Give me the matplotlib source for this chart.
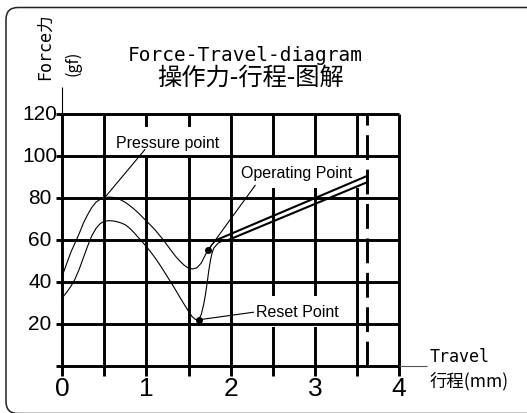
import matplotlib
matplotlib.use('Agg')
import matplotlib.pyplot as plt
from matplotlib.patches import FancyBboxPatch
from matplotlib.transforms import IdentityTransform

# axis ticks and grid
x_ticks = [0, 1, 2, 3, 4]
y_ticks = [20, 40, 60, 80, 100, 120]
grid_x = [0, 0.5, 1, 1.5, 2, 2.5, 3, 3.5, 4]
grid_y = [0, 20, 40, 60, 80, 100, 120]
end_travel = 3.62  # dashed line, total travel

# pressing curve (upper)
press_x = [0, 0.05, 0.1, 0.15, 0.2, 0.25, 0.3, 0.35, 0.4, 0.45, 0.5, 0.55,
           0.6, 0.65, 0.7, 0.75, 0.8, 0.85, 0.9, 0.95, 1.0, 1.05, 1.1,
           1.15, 1.2, 1.25, 1.3, 1.35, 1.4, 1.45, 1.5, 1.55, 1.6, 1.65,
           1.7, 1.735, 1.78, 1.83]
press_y = [43, 48.5, 54, 58.5, 63, 68, 72, 75.5, 78, 79.4, 80.1, 80.4,
           80.3, 79.8, 79, 77.9, 76.4, 74.8, 73, 71, 69, 67, 64.9,
           62.5, 60, 57.3, 54.6, 52, 49.8, 47.9, 46.6, 46.2, 46.8, 49,
           53, 55.4, 58, 60]
press_line_x = [1.83, end_travel]
press_line_y = [60, 90.5]

# release curve (lower)
rel_x = [0, 0.05, 0.1, 0.15, 0.2, 0.25, 0.3, 0.35, 0.4, 0.45, 0.5, 0.55,
         0.6, 0.65, 0.7, 0.75, 0.8, 0.85, 0.9, 0.95, 1.0, 1.05, 1.1,
         1.15, 1.2, 1.25, 1.3, 1.35, 1.4, 1.45, 1.5, 1.54, 1.58, 1.62,
         1.65, 1.68, 1.7, 1.72, 1.74, 1.76, 1.78, 1.8, 1.85, 1.9, 1.97]
rel_y = [32.5, 35, 37.8, 41.3, 46, 51.5, 57, 62, 65.5, 67.8, 68.9, 69.2,
         69.1, 68.7, 68.1, 67.2, 65.6, 63.6, 61.3, 59.1, 56.8, 54.3, 51.6,
         48.7, 45.6, 42.4, 39.2, 35.9, 32.5, 29.2, 26, 23.6, 22.2, 22,
         24.5, 29.5, 34, 39.5, 45.5, 50.5, 54, 56.2, 58.5, 59.4, 60]
rel_line_x = [1.97, end_travel]
rel_line_y = [60, 87.5]

# labelled points: (point x, point y, leader end x, leader end y)
pressure_pt = (0.5, 80, 0.98, 103)
operating_pt = (1.735, 55.4, 2.29, 86)
reset_pt = (1.62, 22, 2.27, 25.6)

W, H = 527, 414
fig = plt.figure(figsize=(W / 100, H / 100), dpi=100)
ax = fig.add_axes([0, 0, 1, 1])
ax.set_xlim(-62.3 / 84.2, (W - 62.3) / 84.2)
ax.set_ylim((367 - H) / 2.1, 367 / 2.1)
ax.axis('off')

# rounded frame around everything
frame = FancyBboxPatch((6, -0.5), 620, 406, boxstyle='round,pad=0,rounding_size=12',
                       transform=IdentityTransform(), fill=False,
                       edgecolor='#222222', linewidth=1.1)
fig.patches.append(frame)

lw_grid = 2.1
ax.vlines(grid_x, -4.6, 120, colors='black', linewidth=lw_grid, zorder=1)
ax.vlines([0], 120, 133, colors='black', linewidth=0.8, zorder=1)
ax.vlines([end_travel], 0, 120, colors='black', linewidth=lw_grid,
          linestyles=(0, (8.5, 3.3)), zorder=1)

label_font = dict(family='Liberation Sans', fontsize=11.5, zorder=2,
                  ha='center', va='center',
                  bbox=dict(boxstyle='square,pad=0.5', facecolor='white',
                            edgecolor='none'))
ax.text(1.249, 106.4, 'Pressure point', **label_font)
ax.text(2.78, 92.2, 'Operating Point', **label_font)
ax.text(2.79, 26, 'Reset Point', **label_font)

ax.hlines(grid_y, -0.07, 4.0, colors='black', linewidth=lw_grid, zorder=3)
ax.hlines([0], 4.0, 4.33, colors='#555555', linewidth=0.8, zorder=3)

# curves
ax.plot(press_x, press_y, color='black', linewidth=0.8, zorder=4)
ax.plot(rel_x, rel_y, color='black', linewidth=0.8, zorder=4)
ax.plot(press_line_x, press_line_y, color='black', linewidth=1.5,
        solid_capstyle='butt', zorder=4)
ax.plot(rel_line_x, rel_line_y, color='black', linewidth=1.5,
        solid_capstyle='butt', zorder=4)

# leaders
for px, py, lx, ly in (pressure_pt, operating_pt, reset_pt):
    ax.plot([px, lx], [py, ly], color='black', linewidth=0.8, zorder=5)
for px, py, _, _ in (operating_pt, reset_pt):
    ax.plot([px], [py], 'o', color='black', markersize=4, zorder=6)

# tick labels
for v in y_ticks:
    ax.text(-0.265, v, str(v), family='Liberation Sans', fontsize=15,
            ha='center', va='center')
for v in x_ticks:
    ax.text(v, -10.5, str(v), family='Liberation Sans', fontsize=19,
            ha='center', va='center')

mono_cjk = ['DejaVu Sans Mono', 'Noto Sans CJK SC']
ax.text(2.17, 145.7, 'Force-Travel-diagram', family=mono_cjk, fontsize=14,
        ha='center', va='baseline')
ax.text(2.23, 137.6, '操作力-行程-图解', family='Noto Sans CJK SC',
        fontsize=17.5, ha='center', va='center')
ax.text(-0.205, 152.4, 'Force力', family=mono_cjk, fontsize=12,
        rotation=90, ha='center', va='center')
ax.text(0.127, 144.8, '(gf)', family='Noto Sans CJK SC', fontsize=11.5,
        rotation=90, ha='center', va='center')
ax.text(4.366, 2.4, 'Travel', family=mono_cjk, fontsize=12,
        ha='left', va='baseline')
ax.text(4.366, -6.7, '行程(mm)', family='Noto Sans CJK SC', fontsize=12.5,
        ha='left', va='center')

fig.savefig('out.png', dpi=100, facecolor='white')
